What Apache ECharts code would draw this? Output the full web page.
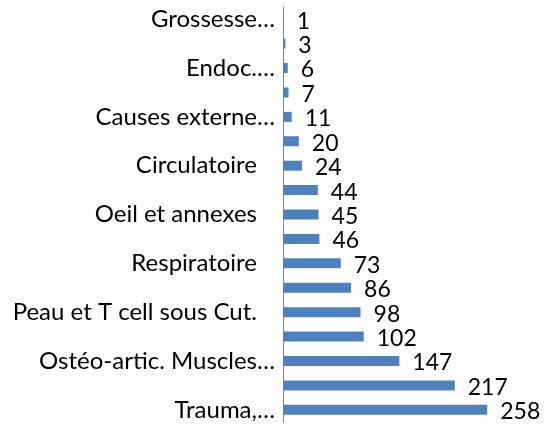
<!DOCTYPE html>
<html>
<head>
<meta charset="utf-8">
<script src="https://cdn.jsdelivr.net/npm/echarts@6/dist/echarts.min.js"></script>
<style>
  html, body { margin: 0; padding: 0; background: #fff; }
  #chart { width: 545px; height: 425px; }
</style>
</head>
<body>
<div id="chart"></div>
<script>
// bottom to top; only every other name is shown on the axis
const categories = [
  'Trauma,…',
  'Symptômes…',
  'Ostéo-artic. Muscles…',
  'Digestif',
  'Peau et T cell sous Cut.',
  'Génito-urinaire',
  'Respiratoire',
  'ORL',
  'Oeil et annexes',
  'Nerveux',
  'Circulatoire',
  'Infectieuses',
  'Causes externe…',
  'Mental',
  'Endoc.…',
  'Sang',
  'Grossesse…',
];
const values = [258, 217, 147, 102, 98, 86, 73, 46, 45, 44, 24, 20, 11, 7, 6, 3, 1];

const chart = echarts.init(document.getElementById('chart'));
chart.setOption({
  animation: false,
  textStyle: { fontFamily: 'Lato' },
  grid: { left: 283, right: 0, top: 7, bottom: 3, containLabel: false },
  xAxis: {
    type: 'value',
    min: 0,
    max: 331,
    show: false,
  },
  yAxis: {
    type: 'category',
    data: categories,
    axisLine: { show: true, lineStyle: { color: '#868686', width: 1 } },
    axisTick: { show: false },
    axisLabel: {
      interval: 1,
      margin: 8,
      color: '#000',
      fontSize: 24,
      fontFamily: 'Lato',
      // full names keep a trailing gap, truncated ones run up to the axis
      formatter: v => v.endsWith('…') ? v : `{pad|${v}}`,
      rich: {
        pad: { padding: [0, 18, 0, 0], fontSize: 24, color: '#000', fontFamily: 'Lato' },
      },
    },
    splitLine: { show: false },
  },
  series: [{
    type: 'bar',
    data: values,
    barWidth: 10,
    itemStyle: { color: '#4F81BD' },
    label: {
      show: true,
      position: 'right',
      distance: 13,
      offset: [0, 2],
      color: '#000',
      fontSize: 23,
      fontFamily: 'Lato',
    },
  }],
});
</script>
</body>
</html>
